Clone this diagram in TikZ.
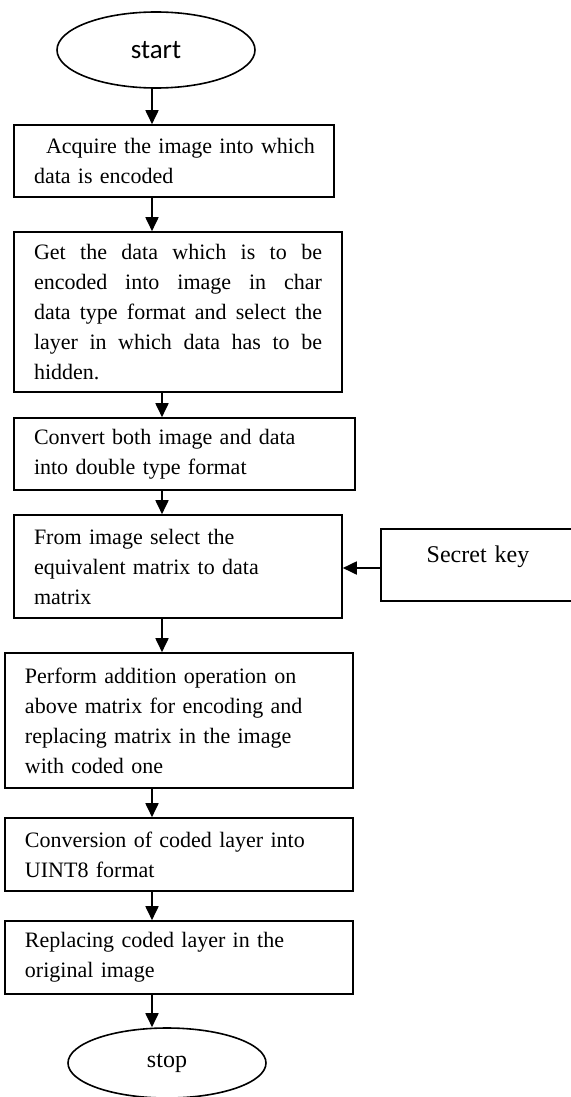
\documentclass[tikz,border=0pt]{standalone}
\usepackage{fontspec}
\setmainfont{Liberation Serif}
\newfontfamily\calibri{Carlito}
\usepackage{tikz}
\usetikzlibrary{arrows.meta,positioning,shapes.geometric}

\begin{document}
\begin{tikzpicture}[x=0.5pt, y=-0.5pt,
    proc/.style={draw, line width=0.8pt, rectangle, inner xsep=10pt, inner ysep=0pt,
        align=left, font=\fontsize{11pt}{15pt}\selectfont},
    term/.style={draw, line width=0.8pt, ellipse, inner sep=0pt},
    arr/.style={-{Triangle[width=6.5pt,length=7pt]}, line width=0.9pt}]
    \useasboundingbox (0,0) rectangle (571,1097);

    % Start / stop
    \node[term, minimum width=99pt, minimum height=38pt,
        font=\calibri\fontsize{13.5pt}{15pt}\selectfont] (start) at (156,50) {start};
    \node[term, minimum width=99pt, minimum height=35pt,
        font=\fontsize{12pt}{14pt}\selectfont] (stop) at (167,1063) {stop};

    % Steps
    \node[proc, text width=140pt, minimum height=36pt] (acquire) at (174,161)
        {\mbox{\hspace*{6pt}Acquire the image into which}\\data is encoded};
    \node[proc, text width=144pt, minimum height=80pt, align=justify] (getdata) at (178,312)
        {Get the data which is to be\linebreak encoded into image in char\linebreak
         data type format and select the\linebreak layer in which data has to be\linebreak hidden.};
    \node[proc, text width=150.5pt, minimum height=36pt] (convert) at (184.5,454)
        {Convert both image and data\\into double type format};
    \node[proc, text width=144pt, minimum height=51.5pt] (select) at (178,566.5)
        {From image select the\\equivalent matrix to data\\matrix};
    \node[proc, text width=154pt, minimum height=67.5pt] (addition) at (179,720.5)
        {Perform addition operation on\\above matrix for encoding and\\replacing matrix in the image\\with coded one};
    \node[proc, text width=154pt, minimum height=36.5pt] (uint) at (179,854.5)
        {Conversion of coded layer into\\UINT8 format};
    \node[proc, text width=154pt, minimum height=36.5pt] (replace) at (179,957.5)
        {Replacing coded layer in the\\original image};

    % Secret key
    \node[proc, text width=77pt, minimum height=36pt, align=center,
        font=\fontsize{12pt}{15pt}\selectfont] (key) at (478,565)
        {Secret key\\[-4pt]\mbox{}};

    % Arrows
    \draw[arr] (start.south -| 152,0) -- (acquire.north -| 152,0);
    \draw[arr] (acquire.south -| 152,0) -- (getdata.north -| 152,0);
    \draw[arr] (getdata.south -| 162,0) -- (convert.north -| 162,0);
    \draw[arr] (convert.south -| 162,0) -- (select.north -| 162,0);
    \draw[arr] (select.south -| 162,0) -- (addition.north -| 162,0);
    \draw[arr] (addition.south -| 152,0) -- (uint.north -| 152,0);
    \draw[arr] (uint.south -| 152,0) -- (replace.north -| 152,0);
    \draw[arr] (replace.south -| 152,0) -- (stop.north -| 152,0);
    \draw[arr] (key.west |- 0,568) -- (select.east |- 0,568);

\end{tikzpicture}
\end{document}
